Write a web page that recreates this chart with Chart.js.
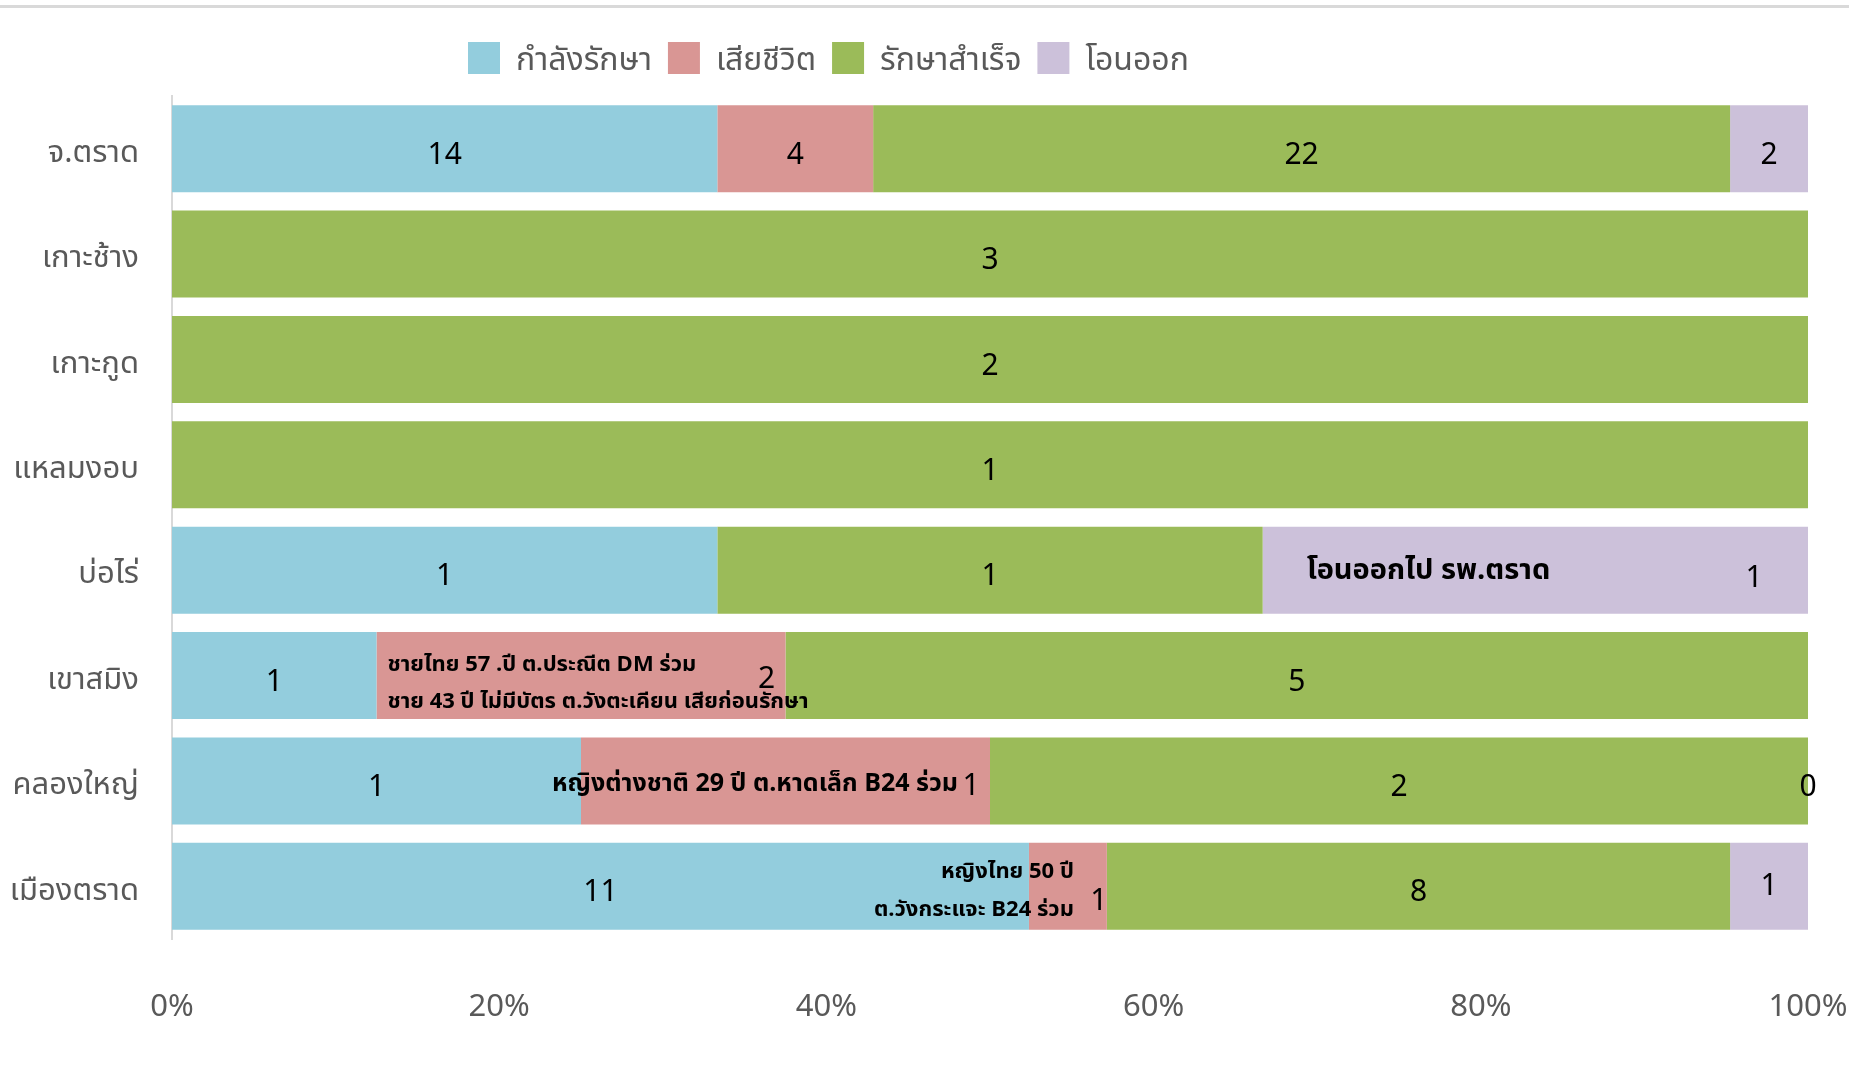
<!DOCTYPE html>
<html>
<head>
<meta charset="utf-8">
<script src="https://cdn.jsdelivr.net/npm/chart.js@4.4.1/dist/chart.umd.min.js"></script>
<style>
  html, body { margin: 0; padding: 0; background: #fff; }
  #wrap { width: 1849px; height: 1073px; position: relative; }
</style>
</head>
<body>
<div id="wrap"><canvas id="barChart"></canvas></div>
<script>
// data
var categories = ["จ.ตราด", "เกาะช้าง", "เกาะกูด", "แหลมงอบ", "บ่อไร่", "เขาสมิง", "คลองใหญ่", "เมืองตราด"];
var seriesNames = ["กำลังรักษา", "เสียชีวิต", "รักษาสำเร็จ", "โอนออก"];
var treating    = [14, 0, 0, 0, 1, 1, 1, 11];
var died        = [4, 0, 0, 0, 0, 2, 1, 1];
var recovered   = [22, 3, 2, 1, 1, 5, 2, 8];
var transferred = [2, 0, 0, 0, 1, 0, 0, 1];
var tickValues  = [0, 20, 40, 60, 80, 100];
// zero values that still carry a label in the picture
var zeroShown = [[6, 3]];
// notes written into some labels
var notes = [
  { row: 4, series: 3, text: ["โอนออกไป รพ.ตราด"] },
  { row: 5, series: 1, text: ["ชายไทย 57 .ปี ต.ประณีต DM ร่วม", "ชาย 43 ปี ไม่มีบัตร ต.วังตะเคียน เสียก่อนรักษา"] },
  { row: 6, series: 1, text: ["หญิงต่างชาติ 29 ปี ต.หาดเล็ก B24 ร่วม"] },
  { row: 7, series: 1, text: ["หญิงไทย 50 ปี", "ต.วังกระแจะ B24 ร่วม"] }
];

var counts = [treating, died, recovered, transferred];
var colors = ["#93CDDD", "#D99694", "#9BBB59", "#CCC1DA"];
var totals = categories.map(function (c, i) {
  return counts.reduce(function (s, arr) { return s + arr[i]; }, 0);
});

var thaiFont = "'Noto Sans Thai', 'Noto Sans', sans-serif";

// where the notes and their numbers sit inside a bar (pixels)
var noteLayout = {
  "4-3": { align: "left", size: 29, dx: 44, dy: [3], vdx: -54, vdy: 11 },
  "5-1": { align: "left", size: 22, dx: 11, dy: [-9, 28], vdx: -19, vdy: 6 },
  "6-1": { align: "right", size: 25, dx: -32, dy: [5], vdx: -19, vdy: 8 },
  "7-1": { align: "right", size: 22, dx: -33, dy: [-13, 25], vdx: -8, vdy: 18 }
};
var labelShift = { "7-3": -6 };

var labelPlugin = {
  id: "barLabels",
  beforeInit: function (chart) {
    var lg = chart.legend;
    var fit = lg.fit;
    lg.fit = function () { fit.call(this); this.height = 70; };
    // thai glyphs sit high on the middle baseline, push legend text down a bit
    var draw = lg.draw;
    lg.draw = function () {
      var ctx = this.ctx;
      var ft = ctx.fillText;
      ctx.fillText = function (t, x, y, w) {
        return w === undefined ? ft.call(ctx, t, x, y + 6) : ft.call(ctx, t, x, y + 6, w);
      };
      draw.apply(this, arguments);
      ctx.fillText = ft;
    };
  },
  afterLayout: function (chart) {
    chart.legend.left = 452;
  },
  beforeDraw: function (chart) {
    var ctx = chart.ctx;
    ctx.save();
    ctx.fillStyle = "#d9d9d9";
    ctx.fillRect(0, 5, chart.width, 3);
    ctx.restore();
  },
  afterDatasetsDraw: function (chart) {
    var ctx = chart.ctx;
    ctx.save();
    ctx.fillStyle = "#000";
    ctx.textBaseline = "middle";
    chart.data.datasets.forEach(function (ds, si) {
      var meta = chart.getDatasetMeta(si);
      meta.data.forEach(function (bar, i) {
        var v = counts[si][i];
        var showZero = zeroShown.some(function (z) { return z[0] === i && z[1] === si; });
        if (v === 0 && !showZero) return;
        var key = i + "-" + si;
        var lay = noteLayout[key];
        var note = notes.filter(function (n) { return n.row === i && n.series === si; })[0];
        if (lay && note) {
          ctx.font = "bold " + lay.size + "px " + thaiFont;
          ctx.textAlign = lay.align;
          var x0 = lay.align === "left" ? bar.base + lay.dx : bar.x + lay.dx;
          note.text.forEach(function (t, k) {
            ctx.fillText(t, x0, bar.y + lay.dy[k]);
          });
          ctx.font = "30px " + thaiFont;
          ctx.textAlign = "center";
          ctx.fillText(String(v), bar.x + lay.vdx, bar.y + lay.vdy);
        } else {
          ctx.font = "30px " + thaiFont;
          ctx.textAlign = "center";
          ctx.fillText(String(v), (bar.x + bar.base) / 2, bar.y + 9 + (labelShift[key] || 0));
        }
      });
    });
    ctx.restore();
  }
};

var ctxB = document.getElementById("barChart").getContext("2d");
var myBarChart = new Chart(ctxB, {
  type: "bar",
  data: {
    labels: categories,
    datasets: seriesNames.map(function (name, si) {
      return {
        label: name,
        backgroundColor: colors[si],
        borderWidth: 0,
        data: counts[si].map(function (v, i) { return v / totals[i] * 100; })
      };
    })
  },
  options: {
    indexAxis: "y",
    responsive: true,
    maintainAspectRatio: false,
    animation: false,
    datasets: { bar: { categoryPercentage: 1, barPercentage: 0.826 } },
    layout: { padding: { top: 26, right: 41, bottom: 0, left: 0 } },
    plugins: {
      tooltip: { enabled: false },
      legend: {
        position: "top",
        align: "start",
        labels: {
          boxWidth: 32,
          boxHeight: 32,
          padding: 16,
          color: "#595959",
          font: { family: thaiFont, size: 32 }
        }
      }
    },
    scales: {
      x: {
        stacked: true,
        min: 0,
        max: 100,
        afterBuildTicks: function (scale) {
          scale.ticks = tickValues.map(function (v) { return { value: v }; });
        },
        afterFit: function (scale) {
          scale.height = 134;
          scale.paddingLeft = 0;
          scale.paddingRight = 0;
        },
        grid: { display: false, drawTicks: false },
        border: { display: false },
        ticks: {
          padding: 52,
          color: "#595959",
          font: { family: thaiFont, size: 31 },
          callback: function (v) { return v + "%"; }
        }
      },
      y: {
        stacked: true,
        afterFit: function (scale) { scale.width = 172; },
        grid: { display: false, drawTicks: false },
        border: { display: true, color: "#d9d9d9", width: 2 },
        ticks: {
          padding: 33,
          labelOffset: 7,
          color: "#595959",
          font: { family: thaiFont, size: 31 }
        }
      }
    }
  },
  plugins: [labelPlugin]
});
</script>
</body>
</html>
